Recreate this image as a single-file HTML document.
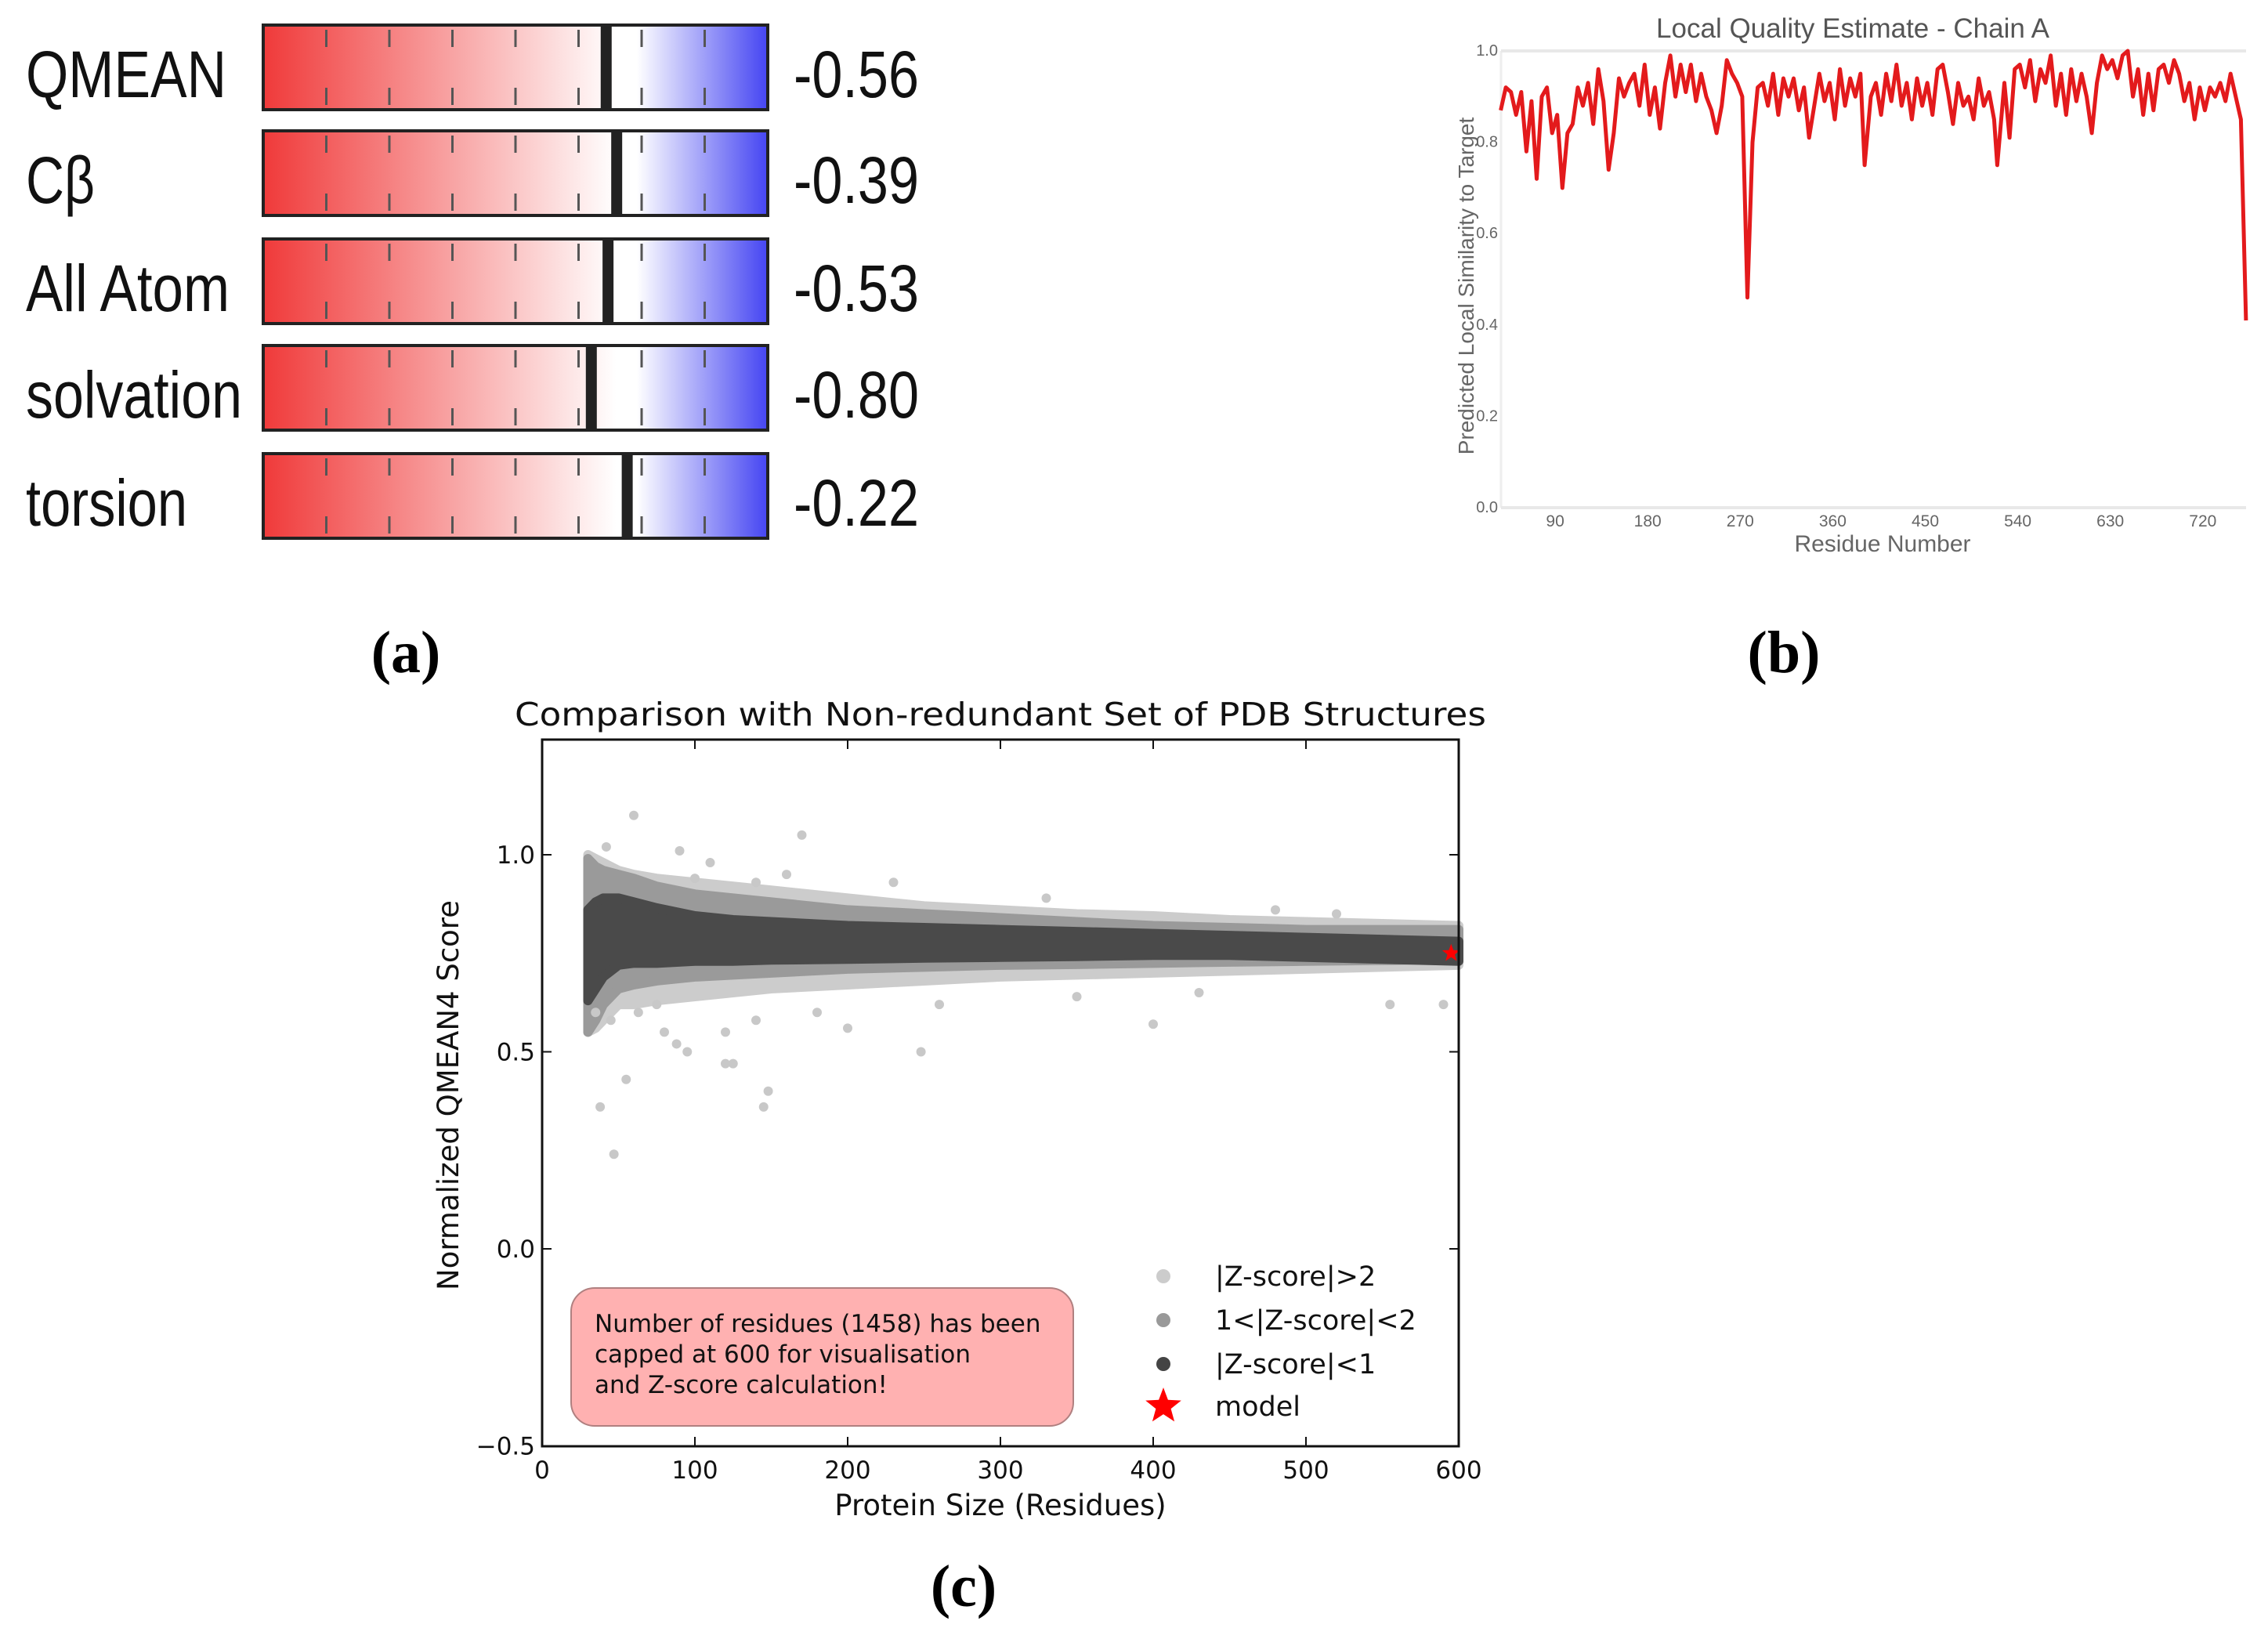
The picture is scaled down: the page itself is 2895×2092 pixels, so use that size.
<!DOCTYPE html>
<html><head><meta charset="utf-8"><style>
html,body{margin:0;padding:0;background:#fff;}
svg{display:block;}
</style></head><body>
<svg id="fig" width="2895" height="2092" viewBox="0 0 2895 2092" xmlns="http://www.w3.org/2000/svg">
<defs>
<linearGradient id="zgrad" x1="0" x2="1" y1="0" y2="0">
<stop offset="0" stop-color="#f03a3a"/>
<stop offset="0.70" stop-color="#ffffff"/>
<stop offset="0.74" stop-color="#ffffff"/>
<stop offset="1" stop-color="#4545f2"/>
</linearGradient>
</defs>
<g id="panelA"></g>
<g id="panelB"></g>
<g id="panelC"></g>
<text x="518" y="858" font-family="Liberation Serif, serif" font-weight="bold" font-size="76" text-anchor="middle">(a)</text>
<text x="2277" y="858" font-family="Liberation Serif, serif" font-weight="bold" font-size="76" text-anchor="middle">(b)</text>
<text x="1230" y="2050" font-family="Liberation Serif, serif" font-weight="bold" font-size="76" text-anchor="middle">(c)</text>
</svg>
<script>
const NS='http://www.w3.org/2000/svg';
// ---------- Panel A data ----------
const aLabels=['QMEAN','Cβ','All Atom','solvation','torsion'];
const aValues=[-0.56,-0.39,-0.53,-0.80,-0.22];
const aValueText=['-0.56','-0.39','-0.53','-0.80','-0.22'];
// ---------- Panel B data ----------
const bResidues=[37,42,47,52,57,62,67,72,77,82,87,92,97,102,107,112,117,122,127,132,137,142,147,152,157,162,167,172,177,182,187,192,197,202,207,212,217,222,227,232,237,242,247,252,257,262,267,272,277,282,287,292,297,302,307,312,317,322,327,332,337,342,347,352,357,362,367,372,377,382,387,391,397,402,407,412,417,422,427,432,437,442,447,452,457,462,467,472,477,482,487,492,497,502,507,512,517,520,527,532,537,542,547,552,557,562,567,572,577,582,587,592,597,602,607,612,617,622,627,632,637,642,647,652,657,662,667,672,677,682,687,692,697,702,707,712,717,722,727,732,737,742,747,752,757,762];
const bScores=[0.87,0.92,0.91,0.86,0.91,0.78,0.89,0.72,0.90,0.92,0.82,0.86,0.70,0.82,0.84,0.92,0.88,0.93,0.84,0.96,0.89,0.74,0.82,0.94,0.90,0.93,0.95,0.88,0.97,0.86,0.92,0.83,0.93,0.99,0.90,0.97,0.91,0.97,0.89,0.95,0.90,0.87,0.82,0.88,0.98,0.95,0.93,0.90,0.46,0.80,0.92,0.93,0.88,0.95,0.86,0.94,0.90,0.94,0.87,0.92,0.81,0.88,0.95,0.89,0.93,0.85,0.96,0.88,0.94,0.90,0.95,0.75,0.90,0.93,0.86,0.95,0.89,0.97,0.88,0.93,0.85,0.94,0.88,0.93,0.86,0.96,0.97,0.91,0.84,0.93,0.88,0.90,0.85,0.94,0.88,0.91,0.85,0.75,0.93,0.81,0.96,0.97,0.92,0.98,0.89,0.96,0.93,0.99,0.88,0.95,0.86,0.96,0.89,0.95,0.90,0.82,0.93,0.99,0.96,0.98,0.94,0.99,1.00,0.90,0.96,0.86,0.95,0.87,0.96,0.97,0.93,0.98,0.95,0.89,0.93,0.85,0.92,0.87,0.92,0.90,0.93,0.89,0.95,0.90,0.85,0.41];
const bXTicks=[90,180,270,360,450,540,630,720];
const bYTicks=[0.0,0.2,0.4,0.6,0.8,1.0];
// ---------- Panel C data ----------
const cSizes=[30,35,40,50,60,75,100,125,150,200,250,300,350,400,450,500,550,600];
const cDarkLo=[0.63,0.66,0.69,0.72,0.725,0.725,0.73,0.73,0.733,0.735,0.738,0.74,0.742,0.745,0.745,0.74,0.735,0.73];
const cDarkHi=[0.86,0.88,0.89,0.89,0.88,0.865,0.845,0.835,0.83,0.82,0.815,0.81,0.805,0.80,0.795,0.79,0.785,0.78];
const cMidLo=[0.55,0.58,0.62,0.66,0.67,0.68,0.69,0.695,0.70,0.71,0.715,0.72,0.722,0.725,0.728,0.73,0.732,0.735];
const cMidHi=[0.99,0.97,0.96,0.95,0.94,0.92,0.90,0.89,0.88,0.86,0.85,0.84,0.83,0.82,0.815,0.81,0.81,0.81];
const cLightLo=[0.55,0.56,0.58,0.62,0.62,0.63,0.64,0.65,0.66,0.67,0.68,0.69,0.695,0.70,0.705,0.71,0.715,0.72];
const cLightHi=[1.0,0.99,0.98,0.96,0.95,0.94,0.93,0.92,0.91,0.89,0.87,0.86,0.85,0.845,0.835,0.83,0.825,0.82];
const cOutX=[60,170,47,38,145,148,55,120,125,95,248,88,80,590,555,120,200,400,42,90,110,160,230,330,480,520,45,35,63,75,140,180,260,350,430,140,100];
const cOutY=[1.10,1.05,0.24,0.36,0.36,0.40,0.43,0.47,0.47,0.50,0.50,0.52,0.55,0.62,0.62,0.55,0.56,0.57,1.02,1.01,0.98,0.95,0.93,0.89,0.86,0.85,0.58,0.60,0.60,0.62,0.58,0.60,0.62,0.64,0.65,0.93,0.94];
const cXTicks=[0,100,200,300,400,500,600];
const cYTicks=[-0.5,0.0,0.5,1.0];
const cYTickText=['\u22120.5','0.0','0.5','1.0'];
const cModelX=[595];
const cModelY=[0.75];

function mk(tag,attrs,parent,text){const e=document.createElementNS(NS,tag);for(const k in attrs)e.setAttribute(k,attrs[k]);if(text!==undefined)e.textContent=text;parent.appendChild(e);return e;}

// ---------- Panel A ----------
(function(){
 const g=document.getElementById('panelA');
 const barL=336,barR=980,tops=[32,167,305,441,579],h=108;
 const vx=v=>818+v*79;
 const lblW=[256,88,260,276,206];
 for(let i=0;i<aLabels.length;i++){
  const t=tops[i];
  const row=mk('g',{},g);
  
  
  const lb=mk('text',{x:33,y:t+h/2+38,'font-family':'Liberation Sans, sans-serif','font-size':84,fill:'#111',textLength:lblW[i],lengthAdjust:'spacingAndGlyphs'},row,aLabels[i]);
  
  
  const r=mk('rect',{x:barL,y:t,width:barR-barL,height:h,fill:'url(#zgrad)',stroke:'#222','stroke-width':4},row);
  
  
  for(let k=1;k<8;k++){
   const x=barL+(barR-barL)*k/8;
   mk('line',{x1:x,x2:x,y1:t+6,y2:t+28,stroke:'#555','stroke-width':3},row);
   mk('line',{x1:x,x2:x,y1:t+h-28,y2:t+h-6,stroke:'#555','stroke-width':3},row);
  }
  const m=mk('rect',{x:vx(aValues[i])-7,y:t+2,width:14,height:h-4,fill:'#222'},row);
  
  
  const vt=mk('text',{x:1013,y:t+h/2+38,'font-family':'Liberation Sans, sans-serif','font-size':84,fill:'#111',textLength:160,lengthAdjust:'spacingAndGlyphs'},row,aValueText[i]);
  
  
 }
})();

// ---------- Panel B ----------
(function(){
 const g=document.getElementById('panelB');
 const L=1916,R=2867,T=65,B=648;
 const xs=v=>1867+(v)*(118.1/90);
 const ys=v=>B-(B-T)*v;
 mk('line',{x1:L,x2:L,y1:T,y2:B,stroke:'#eee','stroke-width':3},g);
 bYTicks.forEach(v=>{
  if(v===0||v===1){const gl=mk('line',{x1:L,x2:R,y1:ys(v),y2:ys(v),stroke:'#e8e8e8','stroke-width':4},g);}
  const t=mk('text',{x:L-4,y:ys(v)+6,'font-family':'Liberation Sans, sans-serif','font-size':20,fill:'#666','text-anchor':'end'},g,v.toFixed(1));
  
  
 });
 bXTicks.forEach(v=>{
  const t=mk('text',{x:xs(v),y:672,'font-family':'Liberation Sans, sans-serif','font-size':21,fill:'#666','text-anchor':'middle'},g,String(v));
  
  
 });
 let d='';
 for(let i=0;i<bResidues.length;i++){d+=(i?'L':'M')+xs(bResidues[i]).toFixed(1)+' '+ys(bScores[i]).toFixed(1);}
 const p=mk('path',{d:d,fill:'none',stroke:'#e31a1c','stroke-width':5,'stroke-linejoin':'round'},g);
 
 
 const tt=mk('text',{x:2365,y:48,'font-family':'Liberation Sans, sans-serif','font-size':35,fill:'#555','text-anchor':'middle'},g,'Local Quality Estimate - Chain A');
 
 
 const xl=mk('text',{x:2403,y:704,'font-family':'Liberation Sans, sans-serif','font-size':30,fill:'#666','text-anchor':'middle'},g,'Residue Number');
 
 
 const yl=mk('text',{x:0,y:0,'font-family':'Liberation Sans, sans-serif','font-size':28,fill:'#666','text-anchor':'middle',transform:'translate(1881,365) rotate(-90)'},g,'Predicted Local Similarity to Target');
 
 
})();

// ---------- Panel C ----------
(function(){
 const g=document.getElementById('panelC');
 const L=692,R=1862,T=944,B=1846;
 const xs=v=>L+(R-L)*v/600;
 const ys=v=>1594-503*v;
 function band(lo,hi,col,name){
  let d='';
  for(let i=0;i<cSizes.length;i++)d+=(i?'L':'M')+xs(cSizes[i])+' '+ys(hi[i]);
  for(let i=cSizes.length-1;i>=0;i--)d+='L'+xs(cSizes[i])+' '+ys(lo[i]);
  const p=mk('path',{d:d+'Z',fill:col,stroke:col,'stroke-width':12,'stroke-linejoin':'round'},g);
  
  
 }
 band(cLightLo,cLightHi,'#cccccc','band-z-gt-2');
 band(cMidLo,cMidHi,'#9a9a9a','band-z-1-2');
 band(cDarkLo,cDarkHi,'#4a4a4a','band-z-lt-1');
 for(let i=0;i<cOutX.length;i++){
  const c=mk('circle',{cx:xs(cOutX[i]),cy:ys(cOutY[i]),r:6,fill:'#c8c8c8'},g);
  
  
 }
 function star(cx,cy,r){let pts=[];for(let k=0;k<10;k++){const a=-Math.PI/2+k*Math.PI/5;const rr=k%2?r*0.42:r;pts.push((cx+rr*Math.cos(a)).toFixed(1)+','+(cy+rr*Math.sin(a)).toFixed(1));}return pts.join(' ');}
 const ms=mk('polygon',{points:star(xs(cModelX[0]),ys(cModelY[0]),12),fill:'#ff0000'},g);
 
 
 const ax=mk('rect',{x:L,y:T,width:R-L,height:B-T,fill:'none',stroke:'#111','stroke-width':3},g);
 
 
 cXTicks.forEach(v=>{
  mk('line',{x1:xs(v),x2:xs(v),y1:B,y2:B-12,stroke:'#111','stroke-width':2},g);
  mk('line',{x1:xs(v),x2:xs(v),y1:T,y2:T+12,stroke:'#111','stroke-width':2},g);
  const t=mk('text',{x:xs(v),y:1887,'font-family':'DejaVu Sans, sans-serif','font-size':31,fill:'#111','text-anchor':'middle'},g,String(v));
  
  
 });
 cYTicks.forEach((v,i)=>{
  mk('line',{x1:L,x2:L+12,y1:ys(v),y2:ys(v),stroke:'#111','stroke-width':2},g);
  mk('line',{x1:R,x2:R-12,y1:ys(v),y2:ys(v),stroke:'#111','stroke-width':2},g);
  const t=mk('text',{x:683,y:ys(v)+11,'font-family':'DejaVu Sans, sans-serif','font-size':31,fill:'#111','text-anchor':'end'},g,cYTickText[i]);
  
  
 });
 const tt=mk('text',{x:1277,y:926,'font-family':'DejaVu Sans, sans-serif','font-size':41,fill:'#111','text-anchor':'middle',textLength:1240,lengthAdjust:'spacingAndGlyphs'},g,'Comparison with Non-redundant Set of PDB Structures');
 
 
 const xl=mk('text',{x:1277,y:1934,'font-family':'DejaVu Sans, sans-serif','font-size':37,fill:'#111','text-anchor':'middle'},g,'Protein Size (Residues)');
 
 
 const yl=mk('text',{x:0,y:0,'font-family':'DejaVu Sans, sans-serif','font-size':37,fill:'#111','text-anchor':'middle',transform:'translate(585,1398) rotate(-90)'},g,'Normalized QMEAN4 Score');
 
 
 const bx=mk('rect',{x:729,y:1644,width:641,height:176,rx:30,ry:30,fill:'#ffb1b1',stroke:'#b08080','stroke-width':2},g);
 
 
 ['Number of residues (1458) has been','capped at 600 for visualisation','and Z-score calculation!'].forEach((s,i)=>{
  const t=mk('text',{x:759,y:1700+i*39,'font-family':'DejaVu Sans, sans-serif','font-size':31,fill:'#111'},g,s);
  
  
 });
 const legCols=['#cccccc','#999999','#444444'];
 const legText=['|Z-score|>2','1<|Z-score|<2','|Z-score|<1','model'];
 const legY=[1629,1685,1741,1795];
 for(let i=0;i<4;i++){
  const e=mk('g',{},g);
  
  
  if(i<3)mk('circle',{cx:1485,cy:legY[i],r:9,fill:legCols[i]},e);
  else mk('polygon',{points:star(1485,legY[i],24),fill:'#ff0000'},e);
  mk('text',{x:1551,y:legY[i]+12,'font-family':'DejaVu Sans, sans-serif','font-size':35,fill:'#111'},e,legText[i]);
 }
})();
</script>
</body></html>
